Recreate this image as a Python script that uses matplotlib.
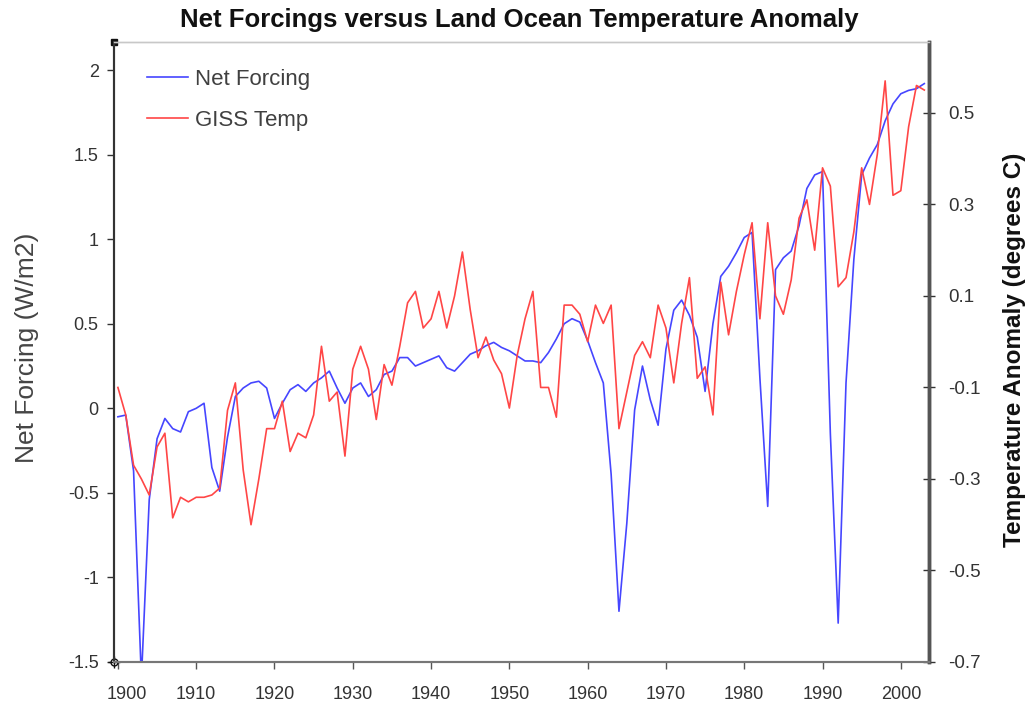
import matplotlib
matplotlib.use('Agg')
import matplotlib.pyplot as plt
from matplotlib.lines import Line2D
from matplotlib.transforms import ScaledTranslation

plt.rcParams['font.family'] = ['Liberation Sans', 'DejaVu Sans']
plt.rcParams['axes.unicode_minus'] = False

years = list(range(1900, 2004))

net_forcing = [
    -0.05, -0.04, -0.37, -1.60, -0.54, -0.18, -0.06, -0.12, -0.14, -0.02,   # 1900s
    0.00, 0.03, -0.35, -0.49, -0.17, 0.07, 0.12, 0.15, 0.16, 0.12,          # 1910s
    -0.06, 0.03, 0.11, 0.14, 0.10, 0.15, 0.18, 0.22, 0.12, 0.03,            # 1920s
    0.12, 0.15, 0.07, 0.11, 0.20, 0.22, 0.30, 0.30, 0.25, 0.27,             # 1930s
    0.29, 0.31, 0.24, 0.22, 0.27, 0.32, 0.34, 0.37, 0.39, 0.36,             # 1940s
    0.34, 0.31, 0.28, 0.28, 0.27, 0.33, 0.41, 0.50, 0.53, 0.51,             # 1950s
    0.40, 0.27, 0.15, -0.39, -1.20, -0.68, -0.01, 0.25, 0.05, -0.10,        # 1960s
    0.35, 0.58, 0.64, 0.55, 0.42, 0.10, 0.50, 0.78, 0.84, 0.92,             # 1970s
    1.01, 1.04, 0.18, -0.58, 0.82, 0.89, 0.93, 1.08, 1.30, 1.38,            # 1980s
    1.40, -0.15, -1.27, 0.15, 0.88, 1.38, 1.48, 1.56, 1.70, 1.80,           # 1990s
    1.86, 1.88, 1.89, 1.92,                                                 # 2000s
]

giss_temp = [
    -0.10, -0.16, -0.27, -0.30, -0.335, -0.23, -0.20, -0.385, -0.34, -0.35,
    -0.34, -0.34, -0.335, -0.32, -0.15, -0.09, -0.28, -0.40, -0.30, -0.19,
    -0.19, -0.13, -0.24, -0.20, -0.21, -0.16, -0.01, -0.13, -0.11, -0.25,
    -0.06, -0.01, -0.06, -0.17, -0.05, -0.095, -0.01, 0.085, 0.11, 0.03,
    0.05, 0.11, 0.03, 0.10, 0.196, 0.07, -0.035, 0.01, -0.04, -0.07,
    -0.145, -0.03, 0.05, 0.11, -0.10, -0.10, -0.165, 0.08, 0.08, 0.06,
    0.00, 0.08, 0.04, 0.08, -0.19, -0.11, -0.03, 0.00, -0.035, 0.08,
    0.03, -0.09, 0.04, 0.14, -0.08, -0.055, -0.16, 0.13, 0.015, 0.11,
    0.19, 0.26, 0.05, 0.26, 0.10, 0.06, 0.135, 0.27, 0.31, 0.20,
    0.38, 0.34, 0.12, 0.14, 0.24, 0.38, 0.30, 0.41, 0.57, 0.32,
    0.33, 0.47, 0.56, 0.55,
]

x_ticks = list(range(1900, 2001, 10))
left_ticks = [-1.5, -1.0, -0.5, 0.0, 0.5, 1.0, 1.5, 2.0]
left_labels = ['-1.5', '-1', '-0.5', '0', '0.5', '1', '1.5', '2']
right_ticks = [-0.7, -0.5, -0.3, -0.1, 0.1, 0.3, 0.5]
right_labels = ['-0.7', '-0.5', '-0.3', '-0.1', '0.1', '0.3', '0.5']

title = 'Net Forcings versus Land Ocean Temperature Anomaly'
left_label = 'Net Forcing (W/m2)'
right_label = 'Temperature Anomaly (degrees C)'
series_names = ['Net Forcing', 'GISS Temp']

blue = '#4646ff'
red = '#ff4646'
txt = '#333333'

W, H = 1033, 707
fig = plt.figure(figsize=(W / 100, H / 100), dpi=100)
L, R, T, B = 114, 929, 42, 662
ax = fig.add_axes([L / W, 1 - B / H, (R - L) / W, (B - T) / H])
ax2 = ax.twinx()

ax.plot(years, net_forcing, color=blue, lw=1.2)
ax2.plot(years, giss_temp, color=red, lw=1.2)

ax.set_xlim(1899.5, 2003.6)
ax.set_ylim(-1.5, 2.166)
ax2.set_ylim(-0.7, 0.655)

ax.set_xticks(x_ticks)
ax.set_xticklabels([str(v) for v in x_ticks])
ax.set_yticks(left_ticks)
ax.set_yticklabels(left_labels)
ax2.set_yticks(right_ticks)
ax2.set_yticklabels(right_labels)

ax.tick_params(axis='x', direction='out', length=5, width=1, color='#555555',
               labelsize=13, labelcolor=txt, pad=12)
ax.tick_params(axis='y', direction='out', length=5, width=1, color='#333333',
               labelsize=13, labelcolor=txt, pad=6)
ax2.tick_params(axis='y', direction='inout', length=8, width=1, color='#333333',
                labelsize=13.5, labelcolor=txt, pad=10)

# first x label nudged right, as in the original
first = ax.get_xticklabels()[0]
first.set_transform(first.get_transform() + ScaledTranslation(9 / 100, 0, fig.dpi_scale_trans))

for a in (ax, ax2):
    a.spines['top'].set_color('#c8c8c8')
    a.spines['top'].set_linewidth(1.0)
    a.spines['bottom'].set_color('#777777')
    a.spines['bottom'].set_linewidth(1.5)
    a.spines['left'].set_color('#333333')
    a.spines['left'].set_linewidth(1.5)
    a.spines['right'].set_color('#555555')
    a.spines['right'].set_linewidth(2.5)

# small handles at the left corners of the plot area
ax.plot([0], [1], marker='s', ms=4, color='#111111', transform=ax.transAxes, clip_on=False)
ax.plot([0], [0], marker='o', ms=5, mfc='white', mec='#111111', mew=1,
        transform=ax.transAxes, clip_on=False)
ax.plot([0], [0], marker='+', ms=8, color='#111111', mew=1,
        transform=ax.transAxes, clip_on=False)

fig.text(0.503, 1 - 20 / H, title, ha='center', va='center',
         fontsize=18.5, fontweight='bold', color='#111111')
fig.text(27 / W, 1 - 348 / H, left_label, rotation=90, ha='center', va='center',
         fontsize=19, color='#454545')
fig.text(1015 / W, 1 - 350 / H, right_label, rotation=90, ha='center', va='center',
         fontsize=17.5, fontweight='bold', color='#111111')

handles = [Line2D([], [], color=blue, lw=1.2), Line2D([], [], color=red, lw=1.2)]
leg = ax2.legend(handles, series_names, loc='upper left', bbox_to_anchor=(0.04, 0.957),
                 frameon=False, fontsize=16, handlelength=1.85, handletextpad=0.35,
                 labelspacing=0.9, labelcolor='#404040', borderpad=0, borderaxespad=0)

fig.savefig('out.png', dpi=100)
